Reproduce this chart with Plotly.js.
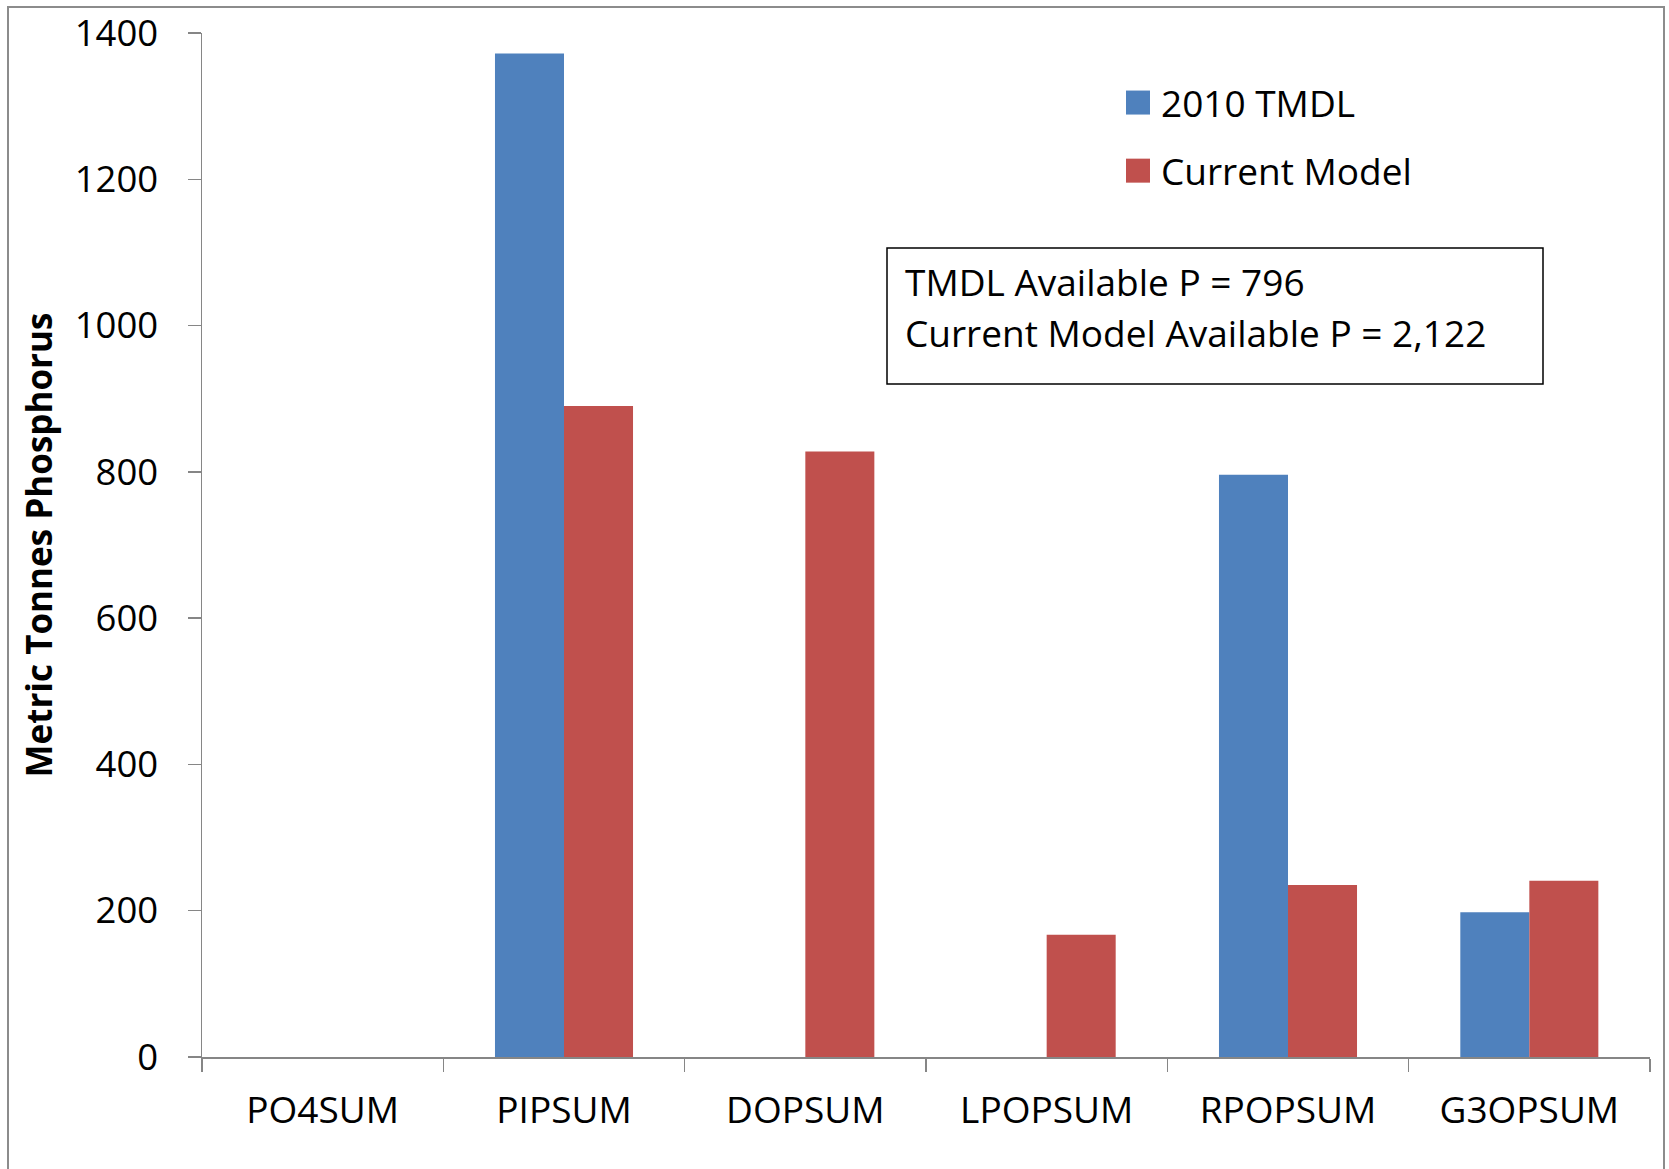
<!DOCTYPE html>
<html>
<head>
<meta charset="utf-8">
<script src="https://cdn.plot.ly/plotly-3.0.1.min.js"></script>
<style>html,body{margin:0;padding:0;background:#fff;}#chart{width:1669px;height:1169px;}</style>
</head>
<body>
<div id="chart"></div>
<script>
const categories = ["PO4SUM", "PIPSUM", "DOPSUM", "LPOPSUM", "RPOPSUM", "G3OPSUM"];
const tmdl2010 = [0, 1372, 0, 0, 796, 198];
const currentModel = [0, 890, 828, 167, 235, 241];
const seriesNames = ["2010 TMDL", "Current Model"];
const boxLines = ["TMDL Available P = 796", "Current Model Available P = 2,122"];
const yTitle = "Metric Tonnes Phosphorus";

const FONT = "Open Sans, Noto Sans, sans-serif";
const AXIS = "#868686";

const traces = [
  {type: "bar", name: seriesNames[0], x: categories, y: tmdl2010, marker: {color: "#4F81BD"}, legendgroup: "a"},
  {type: "bar", name: seriesNames[1], x: categories, y: currentModel, marker: {color: "#C0504D"}, legendgroup: "b"}
];

const L = 202, R = 1650, T = 33, B = 1057;
const W = R - L, H = B - T;
const px = v => (v - L) / W;
const py = v => (B - v) / H;

const lineY = [281, 332];
const annotations = boxLines.map((t, i) => ({
  xref: "paper", yref: "paper", x: px(903), y: py(lineY[i]), xanchor: "left", yanchor: "middle",
  text: t, showarrow: false, align: "left",
  font: {size: 37, family: FONT, color: "#000"}
}));

const layout = {
  width: 1669, height: 1169,
  margin: {l: L, r: 1669 - R, t: T, b: 1169 - B, pad: 0},
  paper_bgcolor: "#fff", plot_bgcolor: "#fff",
  font: {family: FONT, color: "#000", size: 36},
  barmode: "group", bargap: 0.428, bargroupgap: 0,
  xaxis: {
    type: "category", showline: true, linecolor: AXIS, linewidth: 1.5,
    ticks: "outside", tickson: "boundaries", ticklen: 13, tickcolor: AXIS, tickwidth: 1.5,
    showgrid: false, zeroline: false, tickfont: {size: 37, family: FONT, color: "#000"},
    ticklabelstandoff: 20
  },
  yaxis: {
    range: [0, 1400], dtick: 200, tick0: 0, showline: true, linecolor: AXIS, linewidth: 1.5,
    ticks: "outside", ticklen: 13, tickcolor: AXIS, tickwidth: 1.5,
    showgrid: false, zeroline: false, tickfont: {size: 36.5, family: FONT, color: "#000"},
    ticklabelstandoff: 22,
    title: {text: yTitle, font: {size: 35, family: FONT, color: "#000", weight: "bold"}, standoff: 11}
  },
  showlegend: true,
  legend: {
    x: px(1121), y: py(72), xanchor: "left", yanchor: "top",
    font: {size: 37, family: FONT, color: "#000"},
    bgcolor: "rgba(0,0,0,0)", tracegroupgap: 17, itemclick: false
  },
  shapes: [
    {type: "rect", xref: "paper", yref: "paper", x0: px(8), x1: px(1664), y0: py(1190), y1: py(7),
     line: {color: "#8c8c8c", width: 2}, fillcolor: "rgba(0,0,0,0)", layer: "below"},
    {type: "rect", xref: "paper", yref: "paper", x0: px(887), x1: px(1543), y0: py(384), y1: py(248),
     line: {color: "#000", width: 1.5}, fillcolor: "#fff", layer: "above"}
  ],
  annotations: annotations
};

Plotly.newPlot("chart", traces, layout, {displayModeBar: false, staticPlot: true}).then(() => {
  document.querySelectorAll(".legendpoints path").forEach(p => {
    p.setAttribute("d", "M9,12H-15V-12H9Z");
    p.style.strokeWidth = "0";
  });
});
</script>
</body>
</html>
